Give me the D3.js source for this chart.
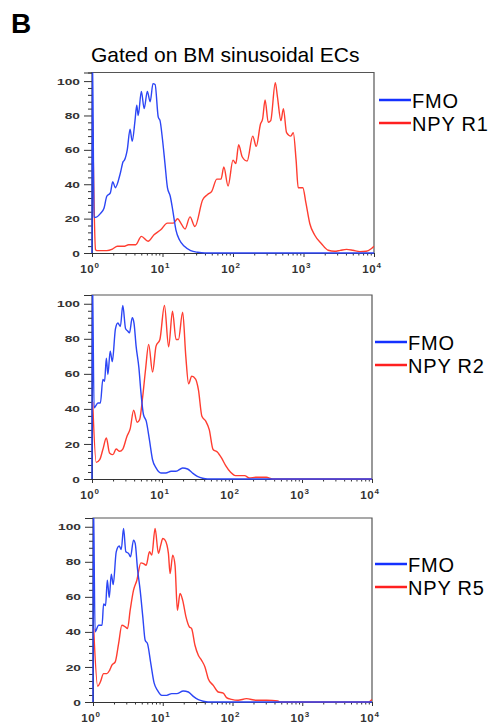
<!DOCTYPE html>
<html>
<head>
<meta charset="utf-8">
<script src="https://cdn.jsdelivr.net/npm/d3@7"></script>
<style>
  body { margin: 0; background: #fff; }
  text { font-family: Arial, "Liberation Sans", sans-serif; }
</style>
</head>
<body>
<div id="chart-area"></div>
<script>
/*
*    flow histograms, 3 panels
*/

// [log10 intensity, % of max]
var fmo1 = [[0,0],[0.005,120],[0.03,21],[0.05,20.7],[0.12,23],[0.17,26],[0.21,33],[0.26,35],[0.295,41.5],[0.33,38],[0.405,47],[0.44,53],[0.46,54],[0.5,60],[0.54,72],[0.57,65],[0.61,77],[0.635,86],[0.655,80],[0.7,94],[0.74,84],[0.785,94],[0.825,88],[0.865,98.5],[0.895,98],[0.94,79],[0.965,77],[1.0,66],[1.035,52],[1.07,38],[1.11,33],[1.145,25],[1.19,13.5],[1.24,7.7],[1.31,3.9],[1.4,1.4],[1.5,0.4],[1.6,0],[4,0]];
var npy1 = [[0.01,77],[0.05,2],[0.07,1.4],[0.21,1.4],[0.29,2.3],[0.36,3.9],[0.45,3.9],[0.52,4.8],[0.62,4.8],[0.7,9.7],[0.795,6.8],[0.88,10.6],[0.975,13.5],[1.07,17.4],[1.155,17.4],[1.215,19.9],[1.26,17.4],[1.32,14],[1.39,21],[1.46,15.4],[1.57,31],[1.64,34],[1.7,36],[1.77,43],[1.83,43],[1.87,50],[1.93,39],[2.0,54],[2.04,52],[2.08,63],[2.13,56],[2.2,53.5],[2.28,68],[2.33,62],[2.39,75],[2.42,78],[2.455,89],[2.5,76],[2.535,77],[2.6,99],[2.63,91],[2.68,77],[2.715,84],[2.76,70],[2.82,68],[2.855,70],[2.895,54],[2.925,38],[2.99,38],[3.035,29],[3.09,17],[3.16,10.3],[3.255,5.4],[3.35,1.6],[3.44,1.0],[3.52,1.5],[3.61,2.1],[3.7,1.6],[3.8,0.8],[3.89,1.0],[3.96,2.5],[4.0,3.9]];

var fmo2 = [[0,0],[0.005,120],[0.03,40.6],[0.085,43.4],[0.12,43.4],[0.155,56.8],[0.18,55.8],[0.205,69],[0.227,59.6],[0.26,73],[0.29,67],[0.335,85.7],[0.37,89],[0.405,87],[0.44,99],[0.48,85.7],[0.51,84.4],[0.535,83.4],[0.575,92],[0.6,89],[0.63,75.8],[0.67,63.4],[0.7,49],[0.735,36.8],[0.775,33],[0.82,22.5],[0.865,11],[0.915,6.3],[0.985,3.4],[1.055,3.4],[1.13,4.4],[1.2,4.4],[1.295,6.3],[1.365,5.7],[1.435,3.4],[1.505,1.5],[1.58,0.4],[1.65,0],[4,0]];
var npy2 = [[0.01,44],[0.06,9.5],[0.11,11],[0.155,16.8],[0.205,23.4],[0.25,14.9],[0.3,13.9],[0.345,17.1],[0.395,15.8],[0.44,17.1],[0.5,24.4],[0.545,28.6],[0.595,39.2],[0.645,32.4],[0.68,33.9],[0.725,47.2],[0.765,62.5],[0.81,76.8],[0.865,61],[0.915,75.8],[0.97,79.6],[1.035,99],[1.095,75.4],[1.15,95.8],[1.2,79.6],[1.235,79.6],[1.295,95.2],[1.34,70],[1.38,54.3],[1.425,58.7],[1.48,57],[1.52,51],[1.57,35.8],[1.625,33],[1.675,28.2],[1.73,16.8],[1.79,15.4],[1.85,12],[1.91,7.6],[1.98,3.8],[2.05,1.9],[2.18,1.9],[2.25,0.6],[2.34,1.0],[2.49,1.0],[2.58,0],[4,0]];

var fmo3 = [[0,0],[0.005,120],[0.03,40],[0.08,43.8],[0.13,43.8],[0.152,56],[0.18,55],[0.205,69.5],[0.233,59.6],[0.262,73],[0.29,67],[0.333,85.7],[0.376,89],[0.405,87],[0.438,99],[0.471,85.7],[0.51,84.8],[0.538,82.9],[0.581,92.4],[0.605,90.5],[0.638,76],[0.676,63.8],[0.714,48.6],[0.748,35.2],[0.781,33.3],[0.829,21.9],[0.876,10.9],[0.924,6.7],[0.986,3.8],[1.057,3.8],[1.129,4.8],[1.2,4.8],[1.295,6.3],[1.367,5.7],[1.438,3.2],[1.51,1.3],[1.581,0.4],[1.65,0],[4,0]];
var npy5 = [[0.01,42],[0.067,9],[0.105,11.4],[0.152,16.2],[0.2,16.2],[0.238,18.1],[0.271,21],[0.319,22.9],[0.367,33.3],[0.414,43.8],[0.462,42.9],[0.495,41.9],[0.533,52.4],[0.581,63.8],[0.629,69.5],[0.686,79.4],[0.724,79],[0.762,78],[0.81,85.7],[0.843,83.8],[0.89,99],[0.938,84.8],[0.971,89.5],[1.0,93.3],[1.033,92.4],[1.081,84.8],[1.105,73.3],[1.143,83.8],[1.176,78],[1.21,52.4],[1.248,61.9],[1.286,58],[1.333,48.6],[1.381,42.9],[1.414,41.9],[1.462,32.4],[1.51,26.7],[1.557,23.8],[1.605,20],[1.652,13.3],[1.724,9.5],[1.795,5.7],[1.867,5.1],[1.914,2.5],[1.986,1.5],[2.08,1.0],[2.2,1.9],[2.34,1.0],[2.49,1.0],[2.65,0.6],[2.68,0],[3.95,0],[4.0,1.5]];

var seriesNames = ["FMO", "NPY R1", "NPY R2", "NPY R5"];
var yTicks = [0, 20, 40, 60, 80, 100];
var xTicks = [1, 10, 100, 1000, 10000];
var xTickExp = ["0", "1", "2", "3", "4"];
var title = "Gated on BM sinusoidal ECs";

var blue = "#2c46f5", red = "#ff3d30";

// panel layout (pixels)
var panels = [
    {fmo: fmo1, npy: npy1, name: seriesNames[1], left: 92, right: 374, top: 72.5, bottom: 253, legY: 100, legX: 379},
    {fmo: fmo2, npy: npy2, name: seriesNames[2], left: 92, right: 372, top: 295, bottom: 479, legY: 342, legX: 375},
    {fmo: fmo3, npy: npy5, name: seriesNames[3], left: 93, right: 372, top: 518, bottom: 702, legY: 564, legX: 375}
];

var svg = d3.select("#chart-area").append("svg")
    .attr("width", 491)
    .attr("height", 725);

svg.append("text")
    .attr("x", 11).attr("y", 33)
    .attr("font-size", 28).attr("font-weight", "bold")
    .text("B");

svg.append("text")
    .attr("x", 91).attr("y", 62)
    .attr("font-size", 21)
    .text(title);

// minor ticks
var yMinor = d3.range(0, 101, 4).filter((v) => v % 20 !== 0);
var xMinor = [];
[1, 10, 100, 1000].forEach((d) => { d3.range(2, 10).forEach((m) => { xMinor.push(d * m); }); });

panels.forEach((p, i) => {
    var x = d3.scaleLog().domain([1, 1e4]).range([p.left, p.right]);
    var y = d3.scaleLinear().domain([0, 105]).range([p.bottom, p.top]);

    var g = svg.append("g");

    // frame
    g.append("path")
        .attr("fill", "none")
        .attr("stroke", "#555")
        .attr("stroke-width", 1.2)
        .attr("d", "M" + p.left + "," + p.bottom + "V" + p.top + "H" + p.right + "V" + p.bottom);

    // y axis
    var yAxis = g.append("g")
        .attr("transform", "translate(" + p.left + ",0)")
        .call(d3.axisLeft(y).tickValues(yTicks).tickSize(8).tickPadding(4));
    yAxis.append("g")
        .call(d3.axisLeft(y).tickValues(yMinor).tickSize(4).tickFormat(""));
    yAxis.selectAll("path.domain").attr("stroke", "#333");
    yAxis.selectAll("line").attr("stroke", "#333");
    yAxis.selectAll("text")
        .attr("fill", "#333")
        .attr("font-size", 9.5)
        .attr("font-weight", "bold")
        .attr("x", -12 / 1.45)
        .attr("transform", "scale(1.45,1)");

    // x axis
    var xAxis = g.append("g")
        .attr("transform", "translate(0," + p.bottom + ")")
        .call(d3.axisBottom(x).tickValues(xTicks).tickSize(4).tickFormat(""));
    xAxis.append("g")
        .call(d3.axisBottom(x).tickValues(xMinor).tickSize(2.5).tickFormat(""));
    xAxis.selectAll("path.domain").attr("stroke", "#333");
    xAxis.selectAll("line").attr("stroke", "#333");

    var lbl = g.selectAll(".xlbl").data(xTicks).enter().append("text")
        .attr("class", "xlbl")
        .attr("x", (d) => x(d) - 2)
        .attr("y", p.bottom + 20)
        .attr("text-anchor", "middle")
        .attr("fill", "#333")
        .attr("font-weight", "bold")
        .attr("font-size", 11.5)
        .attr("letter-spacing", 0.8);
    lbl.append("tspan").text("10");
    lbl.append("tspan")
        .attr("dy", -5.5)
        .attr("font-size", 8)
        .text((d, k) => xTickExp[k]);

    // curves
    g.append("clipPath").attr("id", "clip" + i)
        .append("rect")
        .attr("x", p.left - 2).attr("y", p.top)
        .attr("width", p.right - p.left + 2)
        .attr("height", p.bottom - p.top + 1);

    var line = d3.line()
        .x((d) => x(Math.pow(10, d[0])))
        .y((d) => y(d[1]))
        .curve(d3.curveMonotoneX);

    var curves = g.append("g").attr("clip-path", "url(#clip" + i + ")");
    curves.append("path")
        .attr("fill", "none").attr("stroke", red).attr("stroke-width", 1.4)
        .attr("d", line(p.npy));
    curves.append("path")
        .attr("fill", "none").attr("stroke", blue).attr("stroke-width", 1.4)
        .attr("d", line(p.fmo));

    // legend
    var leg = [{name: seriesNames[0], color: "#1431ff"}, {name: p.name, color: "#ff2020"}];
    var lg = g.selectAll(".leg").data(leg).enter().append("g")
        .attr("transform", (d, k) => "translate(" + p.legX + "," + (p.legY + k * 23) + ")");
    lg.append("line")
        .attr("x1", 0).attr("x2", 32)
        .attr("stroke", (d) => d.color)
        .attr("stroke-width", 2.5);
    lg.append("text")
        .attr("x", 33).attr("y", 7.5)
        .attr("font-size", 20)
        .attr("letter-spacing", 0.8)
        .text((d) => d.name);
});
</script>
</body>
</html>
